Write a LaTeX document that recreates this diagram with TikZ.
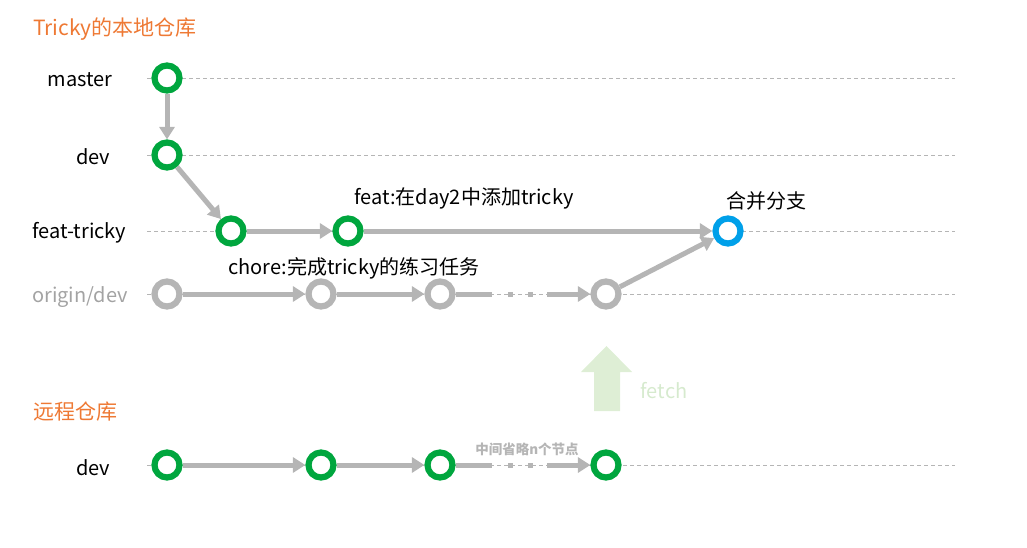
\documentclass[tikz,border=0pt]{standalone}
\usepackage{fontspec}
\setmainfont{Noto Sans CJK SC}
\usetikzlibrary{arrows.meta}
\definecolor{cgreen}{RGB}{0,166,62}
\definecolor{cblue}{RGB}{0,160,233}
\definecolor{cgray}{RGB}{181,181,181}
\definecolor{corange}{RGB}{238,121,52}
\definecolor{cfetch}{RGB}{222,238,213}
\definecolor{cfetchtxt}{RGB}{214,234,206}
\tikzset{
  commit/.style={circle,draw=cgreen,fill=white,line width=6.2pt,minimum size=25pt,inner sep=0pt,outer sep=3.1pt},
  gcommit/.style={commit,draw=cgray},
  bcommit/.style={commit,draw=cblue},
  flow/.style={draw=cgray,line width=5pt,-{Triangle[length=12.5pt,width=15pt]}},
  plainflow/.style={draw=cgray,line width=5pt},
  rowline/.style={draw=cgray,line width=0.8pt,dash pattern=on 4pt off 3pt},
  lbl/.style={font=\fontsize{20}{24}\selectfont,text=black,inner sep=0pt},
  title/.style={font=\fontsize{21}{24}\selectfont,text=corange,inner sep=0pt,anchor=west},
  sq/.style={fill=cgray,minimum width=5pt,minimum height=5pt,inner sep=0pt}
}
\begin{document}
\begin{tikzpicture}[x=1pt,y=-1pt]
\useasboundingbox (0,0) rectangle (1027,548);
% row lines
\foreach \yy/\nm in {78/a,155/b,231/c,294/d,465/e}{
  \coordinate (L\nm) at (147,\yy);
  \coordinate (R\nm) at (955,\yy);
  \draw[rowline] (L\nm) -- (R\nm);
}
% titles
\node[title] (t1) at (33,29) {Tricky的本地仓库};
\node[title] (t2) at (33,412) {远程仓库};
% branch labels
\node[lbl] (lm) at (80,80) {master};
\node[lbl] (ld) at (93,157) {dev};
\node[lbl] (lf) at (79.5,233) {feat-tricky};
\node[lbl,text=cgray!90!black] (lo) at (80,297) {origin/dev};
\node[lbl] (lr) at (93,468) {dev};
% commits
\node[commit] (m) at (167,78) {};
\node[commit] (d) at (167,155) {};
\node[commit] (f1) at (231,231) {};
\node[commit] (f2) at (348,231) {};
\node[bcommit] (mg) at (728,231) {};
\node[gcommit] (o1) at (167,294) {};
\node[gcommit] (o2) at (321,294) {};
\node[gcommit] (o3) at (440,294) {};
\node[gcommit] (o4) at (606,294) {};
\node[commit] (r1) at (167,465) {};
\node[commit] (r2) at (321,465) {};
\node[commit] (r3) at (440,465) {};
\node[commit] (r4) at (606,465) {};
% arrows
\draw[flow] (m) -- (d);
\draw[flow] (d) -- (f1);
\draw[flow] (f1) -- (f2);
\draw[flow] (f2) -- (mg);
\draw[flow] (o1) -- (o2);
\draw[flow] (o2) -- (o3);
\coordinate (oa) at (492,294);
\coordinate (ob) at (547,294);
\draw[plainflow] (o3) -- (oa);
\node[sq] (os1) at (510,294) {};
\node[sq] (os2) at (530,294) {};
\draw[flow] (ob) -- (o4);
\draw[flow] (o4) -- (mg);
\draw[flow] (r1) -- (r2);
\draw[flow] (r2) -- (r3);
\coordinate (ra) at (492,465);
\coordinate (rb) at (547,465);
\draw[plainflow] (r3) -- (ra);
\node[sq] (rs1) at (510,465) {};
\node[sq] (rs2) at (530,465) {};
\draw[flow] (rb) -- (r4);
% annotations
\node[lbl] (n1) at (464,198) {feat:在day2中添加tricky};
\node[lbl] (n2) at (354,268) {chore:完成tricky的练习任务};
\node[lbl] (n3) at (766,201) {合并分支};
\node[font=\fontsize{13.5}{16}\selectfont\bfseries,text=cgray,inner sep=0pt] (n4) at (527,449) {中间省略n个节点};
% fetch arrow
\fill[cfetch] (594,411) -- (594,372) -- (581,372) -- (606.5,346) -- (632,372) -- (620,372) -- (620,411) -- cycle;
\node[font=\fontsize{20}{24}\selectfont,text=cfetchtxt,inner sep=0pt] (fe) at (664,391) {fetch};
\end{tikzpicture}
\end{document}
